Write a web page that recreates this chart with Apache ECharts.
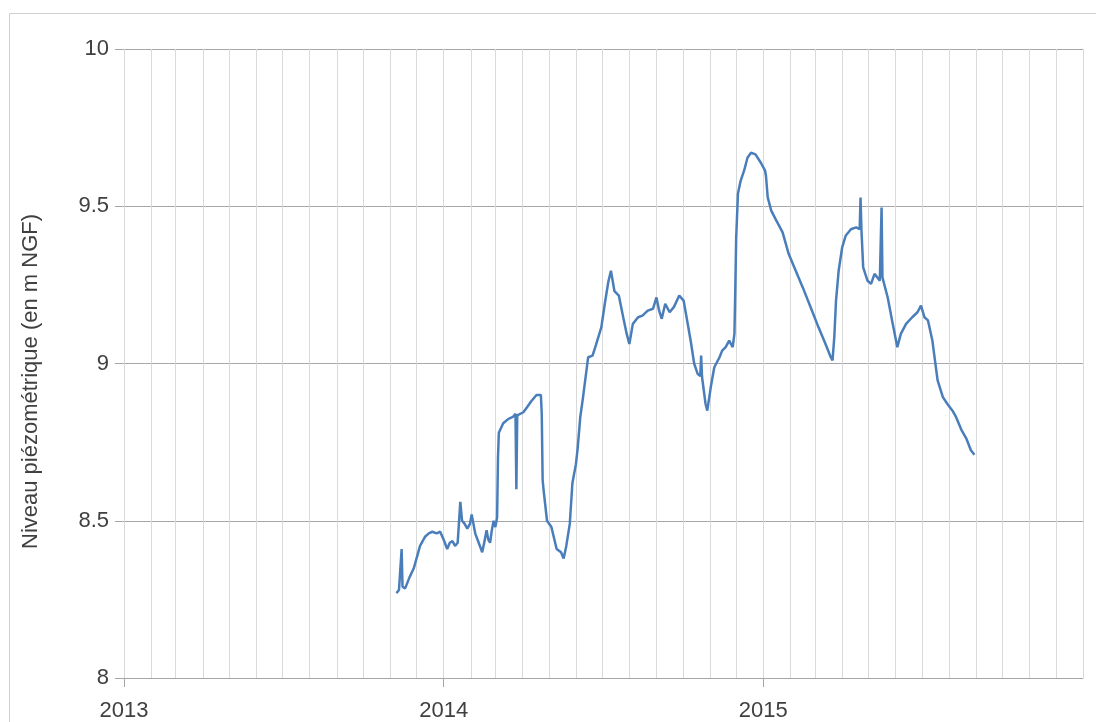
<!DOCTYPE html>
<html>
<head>
<meta charset="utf-8">
<script src="https://cdn.jsdelivr.net/npm/echarts@6/dist/echarts.min.js"></script>
<style>
html,body{margin:0;padding:0;background:#fff;}
#chart{width:1096px;height:722px;}
</style>
</head>
<body>
<div id="chart"></div>
<script>
const dates = [
'2013-11-08','2013-11-11','2013-11-13','2013-11-14','2013-11-15','2013-11-18','2013-11-23','2013-11-28',
'2013-12-02','2013-12-05','2013-12-11','2013-12-15','2013-12-19','2013-12-24','2013-12-28',
'2014-01-01','2014-01-05','2014-01-08','2014-01-11','2014-01-14','2014-01-17','2014-01-20','2014-01-22',
'2014-01-25','2014-01-28','2014-01-31','2014-02-02','2014-02-04','2014-02-06','2014-02-10','2014-02-14',
'2014-02-17','2014-02-19','2014-02-21','2014-02-23','2014-02-25','2014-02-27','2014-03-01','2014-03-03',
'2014-03-04','2014-03-05','2014-03-10','2014-03-16','2014-03-21','2014-03-24','2014-03-25','2014-03-26',
'2014-04-02','2014-04-06','2014-04-11','2014-04-17','2014-04-22','2014-04-23','2014-04-24','2014-04-25',
'2014-04-29','2014-05-04','2014-05-10','2014-05-15','2014-05-18','2014-05-21','2014-05-25','2014-05-28',
'2014-06-01','2014-06-03','2014-06-06','2014-06-09','2014-06-15','2014-06-20','2014-06-24','2014-06-30',
'2014-07-04','2014-07-08','2014-07-11','2014-07-15','2014-07-20','2014-07-25','2014-07-29','2014-08-01',
'2014-08-03','2014-08-05','2014-08-11','2014-08-16','2014-08-22','2014-08-28','2014-09-01','2014-09-04',
'2014-09-07','2014-09-11','2014-09-16','2014-09-21','2014-09-27','2014-10-02','2014-10-06','2014-10-10',
'2014-10-14','2014-10-18','2014-10-21','2014-10-22','2014-10-23','2014-10-27','2014-10-29','2014-11-02',
'2014-11-06','2014-11-12','2014-11-15','2014-11-19','2014-11-23','2014-11-27','2014-11-29','2014-11-30',
'2014-12-01','2014-12-03','2014-12-06','2014-12-10','2014-12-14','2014-12-18','2014-12-23','2014-12-29',
'2015-01-03','2015-01-04','2015-01-06','2015-01-10','2015-01-15','2015-01-23','2015-01-30','2015-02-07',
'2015-02-15','2015-02-24','2015-03-05','2015-03-13','2015-03-19','2015-03-21','2015-03-23','2015-03-25',
'2015-03-28','2015-04-01','2015-04-05','2015-04-11','2015-04-17','2015-04-21','2015-04-22','2015-04-23',
'2015-04-25','2015-04-30','2015-05-04','2015-05-08','2015-05-11','2015-05-14','2015-05-16','2015-05-17',
'2015-05-18','2015-05-23','2015-05-28','2015-06-03','2015-06-07','2015-06-13','2015-06-20','2015-06-26',
'2015-06-30','2015-07-04','2015-07-08','2015-07-13','2015-07-19','2015-07-25','2015-07-30','2015-08-05',
'2015-08-09','2015-08-15','2015-08-21','2015-08-26','2015-08-30'
];
const levels = [
8.27,8.28,8.28,8.41,8.29,8.285,8.32,8.35,
8.39,8.42,8.45,8.46,8.465,8.46,8.465,
8.44,8.41,8.43,8.435,8.42,8.43,8.56,8.50,
8.49,8.475,8.49,8.52,8.49,8.46,8.43,8.40,
8.44,8.47,8.44,8.43,8.47,8.50,8.48,8.51,
8.70,8.78,8.81,8.824,8.83,8.84,8.60,8.835,
8.845,8.86,8.88,8.90,8.90,8.84,8.63,8.60,
8.50,8.48,8.41,8.40,8.38,8.42,8.49,8.62,
8.68,8.73,8.83,8.89,9.02,9.025,9.06,9.115,
9.19,9.26,9.295,9.23,9.216,9.147,9.094,9.062,
9.094,9.126,9.147,9.152,9.168,9.174,9.21,9.168,
9.142,9.19,9.163,9.18,9.216,9.20,9.137,9.073,
9.00,8.967,8.96,9.025,8.957,8.872,8.85,8.925,
8.988,9.02,9.041,9.052,9.073,9.052,9.094,9.24,
9.40,9.54,9.58,9.613,9.655,9.67,9.665,9.639,
9.613,9.597,9.528,9.486,9.459,9.417,9.348,9.295,
9.242,9.179,9.115,9.062,9.02,9.01,9.083,9.20,
9.295,9.369,9.406,9.427,9.433,9.427,9.528,9.427,
9.306,9.263,9.253,9.285,9.274,9.263,9.496,9.274,
9.27,9.21,9.137,9.052,9.094,9.126,9.147,9.163,
9.184,9.147,9.137,9.073,8.946,8.893,8.872,8.85,
8.83,8.79,8.76,8.724,8.71
];
const yTicks = {min: 8, max: 10, interval: 0.5};
const xRange = {min: '2013-01-01', max: '2016-01-01'};
const yTitle = 'Niveau piézométrique (en m NGF)';

const DAY = 86400000;
const FONT = '"Liberation Sans", Arial, sans-serif';
const chart = echarts.init(document.getElementById('chart'), null, {renderer: 'canvas'});
chart.setOption({
  animation: false,
  backgroundColor: '#ffffff',
  graphic: [{
    type: 'rect', silent: true, z: -10,
    shape: {x: 9.5, y: 13.5, width: 1100, height: 730},
    style: {fill: 'none', stroke: '#d0d0d0', lineWidth: 1}
  }],
  grid: {left: 124, right: 13, top: 49, bottom: 44, containLabel: false},
  xAxis: [{
    type: 'time', min: xRange.min, max: xRange.max,
    minInterval: 31 * DAY, maxInterval: 31 * DAY, splitNumber: 36,
    axisLine: {show: false}, axisTick: {show: false}, axisLabel: {show: false},
    splitLine: {show: true, lineStyle: {color: '#d9d9d9', width: 1}}
  }, {
    type: 'time', min: xRange.min, max: xRange.max, position: 'bottom',
    minInterval: 380 * DAY, maxInterval: 380 * DAY, splitNumber: 3,
    axisLine: {show: true, lineStyle: {color: '#a6a6a6', width: 1}},
    axisTick: {show: true, length: 9, lineStyle: {color: '#a6a6a6'}},
    splitLine: {show: false},
    axisLabel: {
      margin: 22, color: '#404040', fontSize: 22, fontFamily: FONT,
      formatter: function (v) { const y = new Date(v).getFullYear(); return y < 2016 ? String(y) : ''; }
    }
  }],
  yAxis: {
    type: 'value', min: yTicks.min, max: yTicks.max, interval: yTicks.interval,
    name: yTitle, nameLocation: 'middle', nameGap: 82, nameRotate: 90,
    nameTextStyle: {color: '#404040', fontSize: 22, fontFamily: FONT, padding: [0, 36, 0, 0]},
    axisLine: {show: false},
    axisTick: {show: true, length: 9, lineStyle: {color: '#a6a6a6'}},
    axisLabel: {margin: 15, color: '#404040', fontSize: 22, fontFamily: FONT},
    splitLine: {show: true, lineStyle: {color: '#a6a6a6', width: 1}}
  },
  series: [{
    type: 'line', xAxisIndex: 0, showSymbol: false, symbol: 'none',
    data: dates.map((d, i) => [d, levels[i]]),
    lineStyle: {color: '#4a7ebb', width: 2.5},
    itemStyle: {color: '#4a7ebb'}
  }]
});
</script>
</body>
</html>
